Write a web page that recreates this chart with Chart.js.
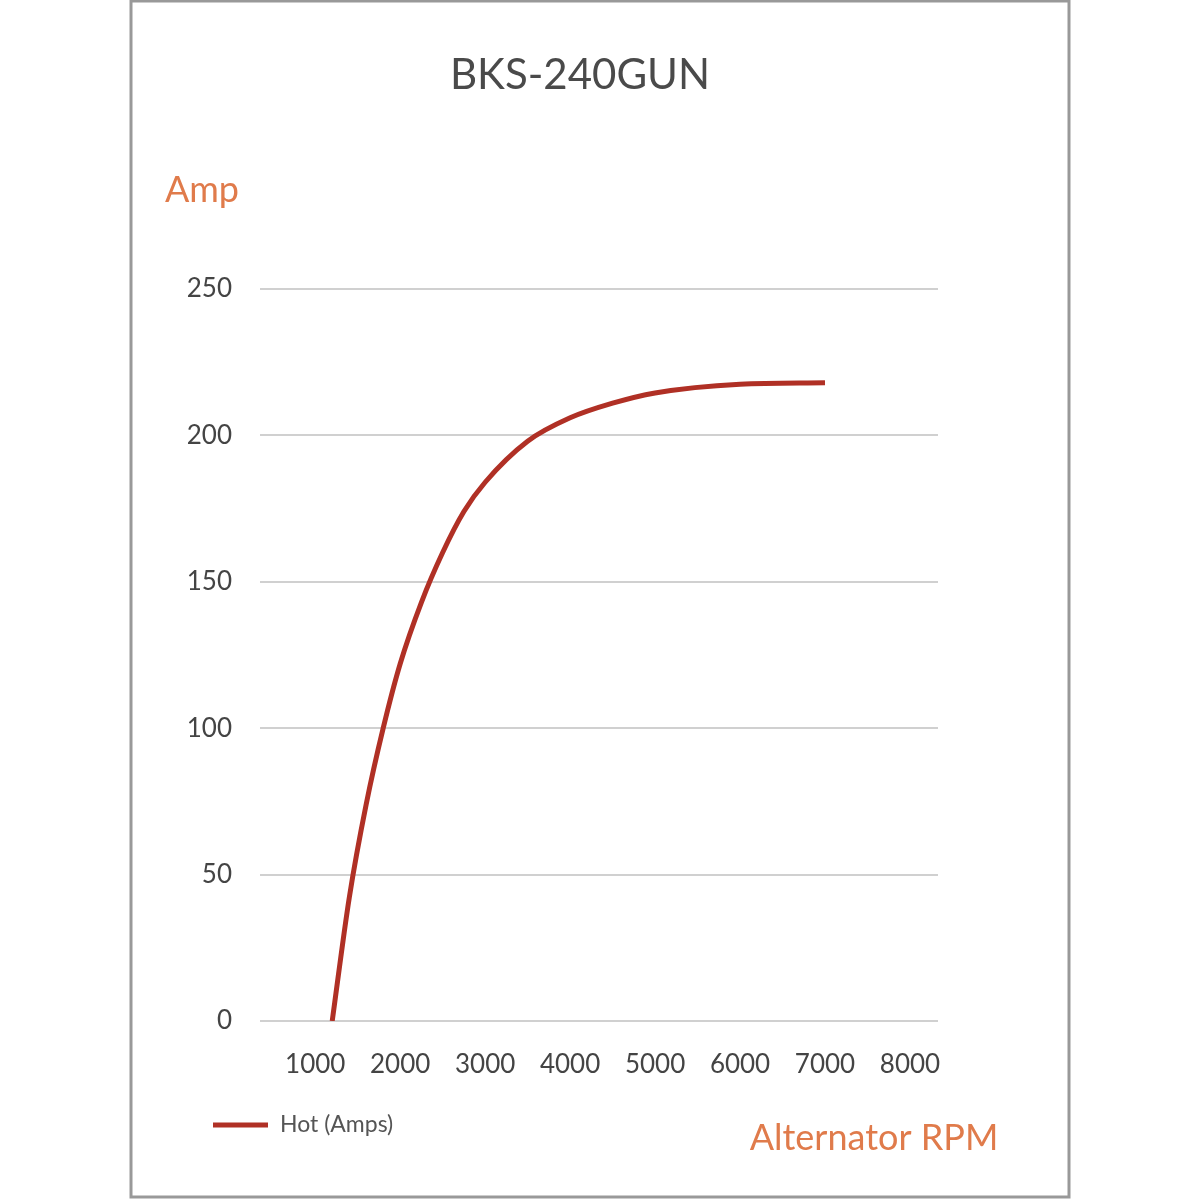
<!DOCTYPE html>
<html><head><meta charset="utf-8">
<script src="https://cdn.jsdelivr.net/npm/chart.js@4/dist/chart.umd.min.js"></script>
<style>html,body{margin:0;padding:0;background:#fff}#w{position:relative;width:1200px;height:1200px}</style>
</head><body><div id="w"><canvas id="c" width="1200" height="1200"></canvas></div>
<script>
const title = "BKS-240GUN";
const seriesName = "Hot (Amps)";
const rpm  = [1200, 1400, 1600, 1800, 2000, 2250, 2500, 2750, 3000, 3500, 4000, 4500, 5000, 6000, 7000];
const amps = [0, 42, 74, 100, 122, 143, 160, 174, 184, 198, 206, 211, 214.5, 217.5, 218];
const xTicks = [1000, 2000, 3000, 4000, 5000, 6000, 7000, 8000];
const yTicks = [0, 50, 100, 150, 200, 250];
const F = "Lato, 'Open Sans', sans-serif";
const orange = "#E07B4B", red = "#B03025";

const deco = {
  id: 'deco',
  beforeDraw(ch) {
    const c = ch.ctx; c.save();
    c.fillStyle = '#fff'; c.fillRect(0,0,1200,1200);
    c.strokeStyle = '#999'; c.lineWidth = 3; c.strokeRect(131,1,938,1196);
    c.restore();
  },
  afterDraw(ch) {
    const c = ch.ctx; c.save();
    c.textAlign = 'center'; c.textBaseline = 'middle';
    c.fillStyle = '#4a4a4a'; c.font = "42px " + F; c.fillText(title, 580, 75);
    c.fillStyle = orange; c.font = "36px " + F;
    c.fillText("Amp", 202, 190);
    c.fillText("Alternator RPM", 874, 1138);
    c.strokeStyle = red; c.lineWidth = 5;
    c.beginPath(); c.moveTo(213,1125); c.lineTo(268,1125); c.stroke();
    c.fillStyle = '#555'; c.font = "23px " + F; c.textAlign = 'left';
    c.fillText(seriesName, 280, 1125);
    c.restore();
  }
};

new Chart(document.getElementById('c'), {
  type: 'line',
  data: { datasets: [{ label: seriesName, data: rpm.map((x,i)=>({x, y: amps[i]})),
    borderColor: red, borderWidth: 5, pointRadius: 0, cubicInterpolationMode: 'monotone', fill: false }] },
  options: {
    responsive: false, animation: false, devicePixelRatio: 1,
    layout: { padding: { left: 0, right: 262, top: 289, bottom: 0 } },
    plugins: { legend: { display: false }, tooltip: { enabled: false } },
    scales: {
      x: { type: 'linear', min: 350, max: 8330,
        afterBuildTicks: s => { s.ticks = xTicks.map(v => ({ value: v })); },
        afterFit: s => { s.height = 179; },
        grid: { display: false }, border: { display: false },
        ticks: { color: '#444', font: { family: F, size: 26 }, padding: 20, maxRotation: 0, autoSkip: false, callback: v => String(v) } },
      y: { min: 0, max: 250,
        afterBuildTicks: s => { s.ticks = yTicks.map(v => ({ value: v })); },
        afterFit: s => { s.width = 260; },
        grid: { color: '#d0d0d0', lineWidth: 2, drawTicks: false }, border: { display: false },
        ticks: { color: '#444', font: { family: F, size: 26 }, padding: 28 } }
    }
  },
  plugins: [deco]
});
</script></body></html>
